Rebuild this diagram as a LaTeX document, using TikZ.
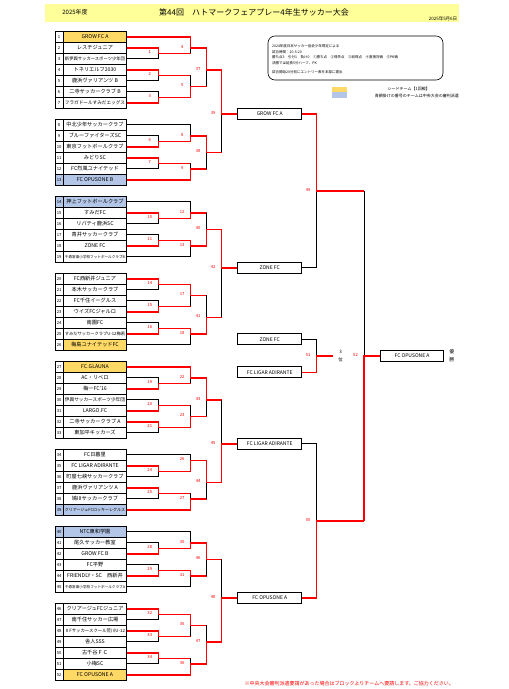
\documentclass[tikz,border=0pt]{standalone}
\usepackage{fontspec}
\usepackage{graphicx}
\setmainfont{Noto Sans CJK JP}
\usetikzlibrary{backgrounds}
\definecolor{hdr}{HTML}{FFFF99}
\definecolor{seed}{HTML}{FFD966}
\definecolor{refc}{HTML}{B4C6E7}
\definecolor{rline}{HTML}{FF0000}
\newsavebox\nbox
\newcommand\fitname[1]{\sbox\nbox{#1}\ifdim\wd\nbox>60pt\resizebox{60pt}{!}{\usebox\nbox}\else\usebox\nbox\fi}
\def\K#1{31.3+5.5*#1}
\tikzset{
 blk/.style={draw=black,line width=0.7pt},
 rd/.style={draw=rline,line width=1.5pt,line cap=square,line join=miter},
 numcell/.style={draw=black,line width=0.9pt,minimum width=8.3pt,minimum height=11pt,inner sep=0pt,font=\fontsize{4.2}{5}\selectfont},
 namecell/.style={draw=black,line width=0.9pt,minimum width=63.4pt,minimum height=11pt,inner sep=0pt,font=\fontsize{5.2}{6}\selectfont},
 lbl/.style={text=rline,font=\fontsize{4.2}{5}\selectfont,inner sep=0pt},
 rbox/.style={draw=black,line width=0.9pt,minimum width=64pt,minimum height=11pt,inner sep=0pt,font=\fontsize{5}{6}\selectfont,fill=white},
 info/.style={font=\fontsize{3.5}{4.5}\selectfont,anchor=west,inner sep=0pt},
}
\newcommand\tm[5]{%
 \node[numcell,fill=#5] (n#1) at (59.15,\K{#2}) {#1};
 \node[namecell,fill=#4] (t#1) at (95,\K{#2}) {\fitname{#3}};}
% team line: #1 team, #2 target x, #3 style
\newcommand\tl[3]{\draw[#3] (t#1.east) -- ++({#2-126.7},0);}
% match: #1 label #2 x #3 kTop #4 kOut #5 kBot #6 xNext
\newcommand\mtT[6]{%
 \draw[blk] (#2,\K{#4}) -- (#2,\K{#5});
 \draw[rd] (#2,\K{#3}) -- (#2,\K{#4}) -- (#6,\K{#4});
 \node[lbl] (m#1) at (#2-8.5,\K{#4}-1.2) {#1};}
\newcommand\mtB[6]{%
 \draw[blk] (#2,\K{#3}) -- (#2,\K{#4});
 \draw[rd] (#2,\K{#5}) -- (#2,\K{#4}) -- (#6,\K{#4});
 \node[lbl] (m#1) at (#2-8.5,\K{#4}-1.2) {#1};}
\def\xa{158.3}\def\xb{190.7}\def\xc{206.7}\def\xd{221.7}\def\xe{237.7}\def\xf{316.7}\def\xg{364}
\begin{document}
\begin{tikzpicture}[x=1pt,y=-1pt]
\path[use as bounding box] (0,0) rectangle (509,689);
% header
\node[fill=hdr,minimum width=414pt,minimum height=18pt,inner sep=0pt] (hdr) at (252,13) {};
\node[font=\fontsize{6}{7}\selectfont] (year) at (75,12) {2025年度};
\node[font=\fontsize{8}{9}\selectfont] (title) at (254,12) {第44回　ハトマークフェアプレー4年生サッカー大会};
\node[font=\fontsize{4.5}{5}\selectfont] (date) at (443,19) {2025年5月6日};
% info box
\node[draw=black,line width=0.6pt,rounded corners=7pt,minimum width=175pt,minimum height=44pt,inner sep=0pt] (infobox) at (355.5,58) {};
\node[info] (i1) at (272,45.7) {2024年度日本サッカー協会少年規定による};
\node[info] (i2) at (272,51.7) {試合時間：20-5-20};
\node[info] (i3) at (272,57.3) {勝ち点3　引分1　負け0　①勝ち点　②得失点　③総得点　④直接対戦　⑤PK戦};
\node[info] (i4) at (272,63.3) {決勝では延長5分ハーフ、PK};
\node[info] (i5) at (272,71.7) {試合開始20分前にエントリー表を本部に提出};
% legend
\node[fill=seed,minimum width=15.5pt,minimum height=5.3pt,inner sep=0pt] (lgy) at (339.7,89.6) {};
\node[fill=refc,minimum width=15.5pt,minimum height=5.3pt,inner sep=0pt] (lgb) at (339.7,94.9) {};
\node[font=\fontsize{4}{5}\selectfont,anchor=east,inner sep=0pt] (lg1) at (430,89) {シードチーム【1回戦】};
\node[font=\fontsize{4}{5}\selectfont,anchor=east,inner sep=0pt] (lg2) at (459,95.5) {青網掛けの番号のチームは中央大会の審判派遣};
% teams
\tm{1}{1}{GROW FC A}{seed}{white}
\tm{2}{3}{レスチジュニア}{white}{white}
\tm{3}{5}{新伊興サッカースポーツ少年団}{white}{white}
\tm{4}{7}{トネリエルフ2030}{white}{white}
\tm{5}{9}{鹿浜ヴァリアンツ B}{white}{white}
\tm{6}{11}{二寺サッカークラブ B}{white}{white}
\tm{7}{13}{フラガドールすみだエッグス}{white}{white}
\tm{8}{17}{中北少年サッカークラブ}{white}{white}
\tm{9}{19}{ブルーファイターズSC}{white}{white}
\tm{10}{21}{東京フットボールクラブ}{white}{white}
\tm{11}{23}{みどりSC}{white}{white}
\tm{12}{25}{FC烈風ユナイテッド}{white}{white}
\tm{13}{27}{FC OPUSONE B}{refc}{refc}
\tm{14}{31}{押上フットボールクラブ}{refc}{refc}
\tm{15}{33}{すみだFC}{white}{white}
\tm{16}{35}{リバティ鹿浜SC}{white}{white}
\tm{17}{37}{青井サッカークラブ}{white}{white}
\tm{18}{39}{ZONE FC}{white}{white}
\tm{19}{41}{千寿常東小学校フットボールクラブB}{white}{white}
\tm{20}{45}{FC西新井ジュニア}{white}{white}
\tm{21}{47}{本木サッカークラブ}{white}{white}
\tm{22}{49}{FC千住イーグルス}{white}{white}
\tm{23}{51}{ウイズFCジャルロ}{white}{white}
\tm{24}{53}{南園FC}{white}{white}
\tm{25}{55}{すみだサッカークラブU-12梅若}{white}{white}
\tm{26}{57}{梅島ユナイテッドFC}{seed}{white}
\tm{27}{61}{FC.GLAUNA}{seed}{white}
\tm{28}{63}{AC・リベロ}{white}{white}
\tm{29}{65}{梅一FC’16}{white}{white}
\tm{30}{67}{伊興サッカースポーツ少年団}{white}{white}
\tm{31}{69}{LARGO.FC}{white}{white}
\tm{32}{71}{二寺サッカークラブ A}{white}{white}
\tm{33}{73}{東加平キッカーズ}{white}{white}
\tm{34}{77}{FC日暮里}{white}{white}
\tm{35}{79}{FC LIGAR ADIRANTE}{white}{white}
\tm{36}{81}{町屋七峡サッカークラブ}{white}{white}
\tm{37}{83}{鹿浜ヴァリアンツ A}{white}{white}
\tm{38}{85}{鳩IIIサッカークラブ}{white}{white}
\tm{39}{87}{クリアージュFCロッキーレグルス}{refc}{refc}
\tm{40}{91}{NTC東和学園}{refc}{refc}
\tm{41}{93}{尾久サッカー教室}{white}{white}
\tm{42}{95}{GROW FC B}{white}{white}
\tm{43}{97}{FC平野}{white}{white}
\tm{44}{99}{FRIENDLY・SC　西新井}{white}{white}
\tm{45}{101}{千寿常東小学校フットボールクラブA}{white}{white}
\tm{46}{105}{クリアージュFCジュニア}{white}{white}
\tm{47}{107}{南千住サッカー広場}{white}{white}
\tm{48}{109}{ⅡFサッカースクール荒川U-12}{white}{white}
\tm{49}{111}{舎人SSS}{white}{white}
\tm{50}{113}{古千谷ＦＣ}{white}{white}
\tm{51}{115}{小梅SC}{white}{white}
\tm{52}{117}{FC OPUSONE A}{seed}{white}
% later-round boxes
\node[rbox] (s1) at (269.7,\K{15}) {GROW FC A};
\node[rbox] (s2) at (269.7,\K{43}) {ZONE FC};
\node[rbox] (s3) at (269.7,\K{75}) {FC LIGAR ADIRANTE};
\node[rbox] (s4) at (269.7,\K{103}) {FC OPUSONE A};
\node[rbox] (p1) at (269.7,\K{56}) {ZONE FC};
\node[rbox] (p2) at (269.7,\K{62}) {FC LIGAR ADIRANTE};
\node[rbox,minimum width=62.6pt] (champ) at (412,\K{59}) {FC OPUSONE A};
\node[font=\fontsize{4.5}{8}\selectfont,align=center,inner sep=0pt] (third) at (340.7,\K{59}) {3\\位};
\node[font=\fontsize{4.8}{8}\selectfont,align=center,inner sep=0pt] (win) at (451.7,\K{59}) {優\\勝};
\node[text=rline,font=\fontsize{5}{6}\selectfont,anchor=east,inner sep=0pt] (foot) at (454,684) {※中央大会審判派遣要請があった場合はブロックよりチームへ要請します。ご協力ください。};
\begin{scope}[on background layer]
% team lines
\tl{1}{\xb}{rd}\tl{2}{\xa}{rd}\tl{3}{\xa}{blk}\tl{4}{\xa}{rd}\tl{5}{\xa}{blk}\tl{6}{\xa}{blk}\tl{7}{\xa}{rd}
\tl{8}{\xb}{blk}\tl{9}{\xa}{blk}\tl{10}{\xa}{rd}\tl{11}{\xa}{rd}\tl{12}{\xa}{blk}\tl{13}{\xb}{rd}
\tl{14}{\xb}{blk}\tl{15}{\xa}{rd}\tl{16}{\xa}{blk}\tl{17}{\xa}{blk}\tl{18}{\xa}{rd}\tl{19}{\xb}{blk}
\tl{20}{\xa}{rd}\tl{21}{\xa}{blk}\tl{22}{\xa}{blk}\tl{23}{\xa}{rd}\tl{24}{\xa}{blk}\tl{25}{\xa}{rd}\tl{26}{\xb}{blk}
\tl{27}{\xb}{rd}\tl{28}{\xa}{blk}\tl{29}{\xa}{rd}\tl{30}{\xa}{blk}\tl{31}{\xa}{rd}\tl{32}{\xa}{rd}\tl{33}{\xa}{blk}
\tl{34}{\xb}{blk}\tl{35}{\xa}{rd}\tl{36}{\xa}{blk}\tl{37}{\xa}{rd}\tl{38}{\xa}{blk}\tl{39}{\xb}{rd}
\tl{40}{\xb}{blk}\tl{41}{\xa}{blk}\tl{42}{\xa}{rd}\tl{43}{\xa}{blk}\tl{44}{\xa}{rd}\tl{45}{\xb}{blk}
\tl{46}{\xa}{rd}\tl{47}{\xa}{blk}\tl{48}{\xa}{rd}\tl{49}{\xa}{blk}\tl{50}{\xa}{rd}\tl{51}{\xa}{blk}\tl{52}{\xb}{rd}
% group 1
\mtT{1}{\xa}{3}{4}{5}{\xb}
\mtT{2}{\xa}{7}{8}{9}{\xb}
\mtB{3}{\xa}{11}{12}{13}{\xb}
\mtT{4}{\xb}{1}{3}{4}{\xc}
\mtB{5}{\xb}{8}{10}{12}{\xc}
\mtT{37}{\xc}{3}{7}{10}{\xd}
% group 2
\mtB{6}{\xa}{19}{20}{21}{\xb}
\mtT{7}{\xa}{23}{24}{25}{\xb}
\mtB{8}{\xb}{17}{19}{20}{\xc}
\mtB{9}{\xb}{24}{25}{27}{\xc}
\mtT{38}{\xc}{19}{22}{25}{\xd}
\mtT{39}{\xd}{7}{15}{22}{\xe}
% group 3
\mtT{10}{\xa}{33}{34}{35}{\xb}
\mtB{11}{\xa}{37}{38}{39}{\xb}
\mtB{12}{\xb}{31}{33}{34}{\xc}
\mtT{13}{\xb}{38}{39}{41}{\xc}
\mtB{40}{\xc}{33}{36}{39}{\xd}
% group 4
\mtT{14}{\xa}{45}{46}{47}{\xb}
\mtB{15}{\xa}{49}{50}{51}{\xb}
\mtB{16}{\xa}{53}{54}{55}{\xb}
\mtT{17}{\xb}{46}{48}{50}{\xc}
\mtT{18}{\xb}{54}{55}{57}{\xc}
\mtB{41}{\xc}{48}{52}{55}{\xd}
\mtT{42}{\xd}{36}{43}{52}{\xe}
% group 5
\mtB{19}{\xa}{63}{64}{65}{\xb}
\mtB{20}{\xa}{67}{68}{69}{\xb}
\mtT{21}{\xa}{71}{72}{73}{\xb}
\mtT{22}{\xb}{61}{63}{64}{\xc}
\mtB{23}{\xb}{68}{70}{72}{\xc}
\mtT{43}{\xc}{63}{67}{70}{\xd}
% group 6
\mtT{24}{\xa}{79}{80}{81}{\xb}
\mtT{25}{\xa}{83}{84}{85}{\xb}
\mtB{26}{\xb}{77}{78}{80}{\xc}
\mtB{27}{\xb}{84}{85}{87}{\xc}
\mtT{44}{\xc}{78}{82}{85}{\xd}
\mtB{45}{\xd}{67}{75}{82}{\xe}
% group 7
\mtB{28}{\xa}{93}{94}{95}{\xb}
\mtB{29}{\xa}{97}{98}{99}{\xb}
\mtB{30}{\xb}{91}{93}{94}{\xc}
\mtT{31}{\xb}{98}{99}{101}{\xc}
\mtT{46}{\xc}{93}{96}{99}{\xd}
% group 8
\mtT{32}{\xa}{105}{106}{107}{\xb}
\mtT{33}{\xa}{109}{110}{111}{\xb}
\mtT{34}{\xa}{113}{114}{115}{\xb}
\mtT{35}{\xb}{106}{108}{110}{\xc}
\mtB{36}{\xb}{114}{115}{117}{\xc}
\mtB{47}{\xc}{108}{111}{115}{\xd}
\mtB{48}{\xd}{96}{103}{111}{\xe}
% semis, final, third place
\draw[rd] (s1.east) -- (\xf,\K{15});
\draw[blk] (s2.east) -- (\xf,\K{43});
\draw[blk] (s3.east) -- (\xf,\K{75});
\draw[rd] (s4.east) -- (\xf,\K{103});
\draw[blk] (p1.east) -- (\xf,\K{56});
\draw[rd] (p2.east) -- (\xf,\K{62});
\mtT{49}{\xf}{15}{29}{43}{\xg}
\mtB{50}{\xf}{75}{89}{103}{\xg}
\mtB{52}{\xg}{29}{59}{89}{380.7}
\mtB{51}{\xf}{56}{59}{62}{333}
\end{scope}
\end{tikzpicture}
\end{document}
